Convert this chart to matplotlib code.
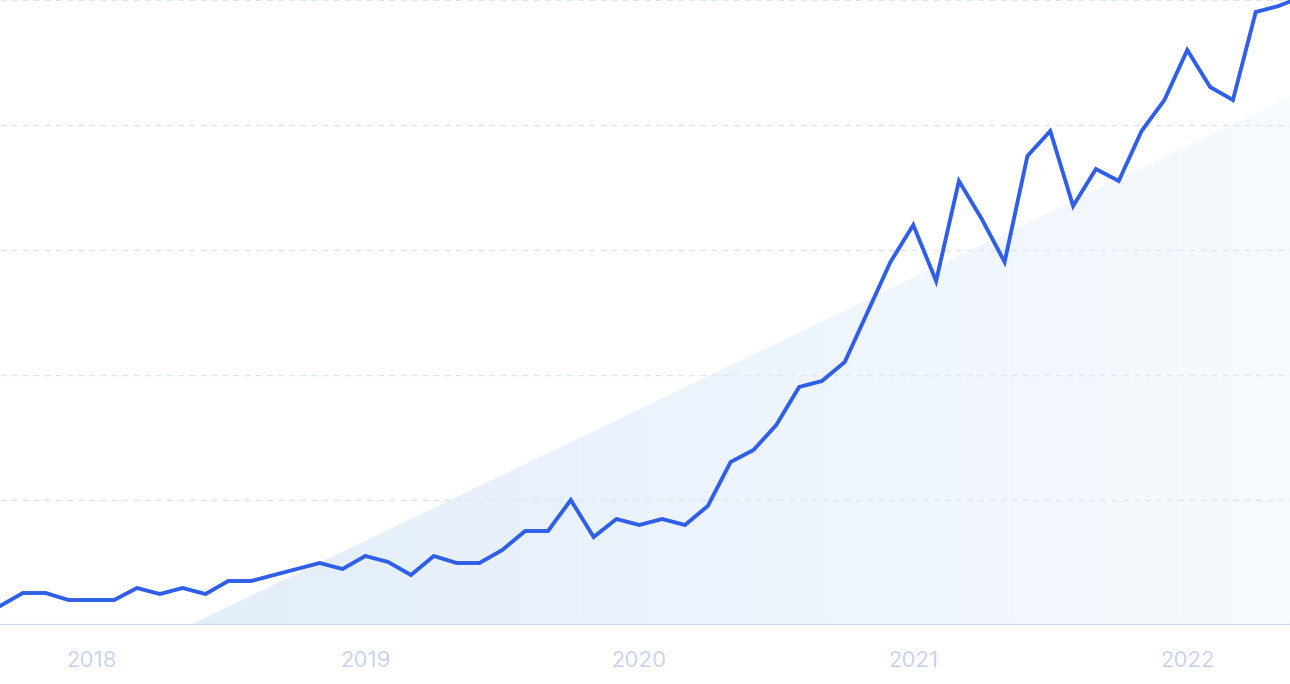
import numpy as np
import matplotlib.pyplot as plt
from matplotlib.patches import Polygon
from matplotlib.colors import LinearSegmentedColormap

# monthly values, Sep 2017 .. Jul 2022 (axis units 0..625)
values = [19, 32, 32, 25, 25, 25, 37, 31, 37, 31, 44, 44, 50, 56, 62, 56,
          69, 63, 50, 69, 62, 62, 75, 94, 94, 125, 88, 106, 100, 106, 100, 119,
          163, 175, 200, 238, 244, 263, 313, 363, 400, 344, 444, 406, 363, 469,
          494, 419, 456, 444, 494, 525, 575, 538, 525, 613, 619, 628]
months = np.arange(len(values))
year_ticks = [4, 16, 28, 40, 52]
year_labels = ["2018", "2019", "2020", "2021", "2022"]

px = 1290 / 56.5  # pixels per month
fig = plt.figure(figsize=(12.9, 6.84), dpi=100)
ax = fig.add_axes([0, 59 / 684, 1, 625 / 684])
ax.set_xlim(0, 56.5)
ax.set_ylim(0, 625)

# background gradient triangle
tri = Polygon([(190 / px, 0), (56.5, 528), (56.5, 0)], closed=True,
              facecolor="none", edgecolor="none")
ax.add_patch(tri)
grad = np.linspace(0, 1, 256).reshape(1, -1)
cm = LinearSegmentedColormap.from_list("g", ["#e3eefb", "#f7fafe"])
im = ax.imshow(grad, extent=[190 / px, 56.5, 0, 528], aspect="auto",
               cmap=cm, zorder=0)
im.set_clip_path(tri)

for y in [125, 250, 375, 500, 625]:
    ax.axhline(y, color="#dfe5ec", lw=1, ls=(0, (4, 4)), zorder=1)
ax.axhline(0, color="#c9d8f5", lw=1.5, zorder=2)

ax.plot(months, values, color="#2f5fe8", lw=2.8, solid_joinstyle="miter",
        zorder=3, clip_on=True)

ax.set_xticks(year_ticks)
ax.set_xticklabels(year_labels, color="#c8d4f0", fontsize=16, family="Inter")
ax.tick_params(axis="x", length=0, pad=19)
ax.set_yticks([])
for s in ax.spines.values():
    s.set_visible(False)

fig.savefig("out.png", dpi=100)
